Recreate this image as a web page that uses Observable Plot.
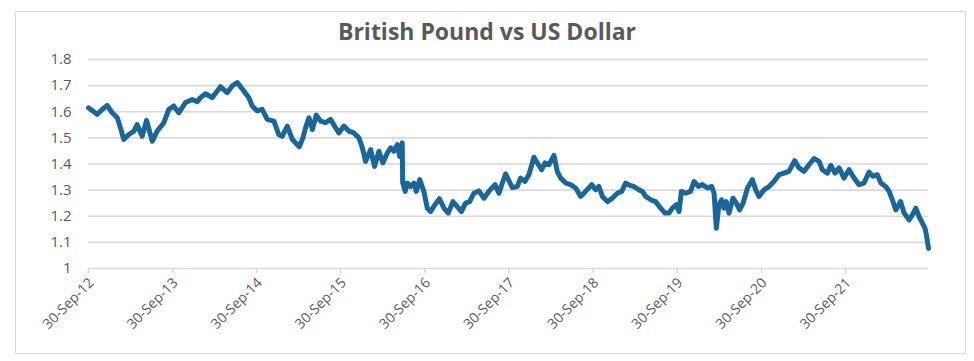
<!DOCTYPE html>
<html><head><meta charset="utf-8">
<script src="https://cdn.jsdelivr.net/npm/d3@7"></script>
<script src="https://cdn.jsdelivr.net/npm/@observablehq/plot@0.6"></script>
<style>
body{margin:0;background:#fff;}
#wrap{position:relative;width:974px;height:361px;overflow:hidden;background:#fff;}
#frame{position:absolute;left:15px;top:11px;width:951px;height:343px;border:1.5px solid #d9d9d9;box-sizing:border-box;}
#title{position:absolute;left:0;width:974px;top:20px;text-align:center;font:bold 23px "Open Sans";line-height:1;color:#595959;}
#chart{position:absolute;left:0;top:0;}
</style></head><body>
<div id="wrap"><div id="frame"></div><div id="chart"></div><div id="title">British Pound vs US Dollar</div></div>
<script>
const dates = [
"2012-09-30","2012-10-16","2012-11-07","2012-11-28","2012-12-20","2013-01-11","2013-02-02","2013-02-16","2013-03-02","2013-03-24",
"2013-04-15","2013-04-29","2013-05-21","2013-06-09","2013-07-04","2013-07-25","2013-08-23","2013-09-14","2013-10-05","2013-10-27",
"2013-11-25","2013-12-24","2014-01-15","2014-01-29","2014-02-20","2014-03-21","2014-04-26","2014-05-25","2014-06-16","2014-07-08",
"2014-08-05","2014-08-27","2014-09-11","2014-10-03","2014-10-24","2014-11-15","2014-12-14","2015-01-04","2015-01-19","2015-02-10",
"2015-03-04","2015-04-03","2015-04-19","2015-04-30","2015-05-15","2015-05-30","2015-06-16","2015-07-05","2015-07-26","2015-08-17",
"2015-09-08","2015-09-22","2015-10-14","2015-11-04","2015-11-26","2015-12-18","2016-01-02","2016-01-16","2016-02-07","2016-02-24",
"2016-03-14","2016-03-31","2016-04-19","2016-05-04","2016-05-18","2016-06-02","2016-06-12","2016-06-23","2016-06-25","2016-07-06",
"2016-07-15","2016-07-29","2016-08-13","2016-08-23","2016-09-07","2016-09-25","2016-10-10","2016-10-24","2016-11-12","2016-12-02",
"2016-12-21","2017-01-09","2017-01-29","2017-02-17","2017-03-07","2017-03-25","2017-04-12","2017-04-30","2017-05-22","2017-06-13",
"2017-07-04","2017-07-31","2017-08-17","2017-09-03","2017-09-15","2017-10-01","2017-10-14","2017-11-05","2017-11-19","2017-12-08",
"2017-12-25","2018-01-16","2018-01-31","2018-02-18","2018-03-05","2018-03-22","2018-04-13","2018-04-27","2018-05-12","2018-06-03",
"2018-06-24","2018-07-16","2018-08-07","2018-08-28","2018-09-24","2018-10-11","2018-10-25","2018-11-09","2018-12-01","2018-12-22",
"2019-01-13","2019-02-01","2019-02-18","2019-03-08","2019-03-26","2019-04-17","2019-05-02","2019-05-16","2019-06-07","2019-06-28",
"2019-07-20","2019-08-08","2019-08-25","2019-09-09","2019-09-26","2019-10-08","2019-10-18","2019-11-06","2019-11-27","2019-12-12",
"2019-12-31","2020-01-17","2020-02-08","2020-02-27","2020-03-08","2020-03-18","2020-03-29","2020-04-10","2020-04-20","2020-04-30",
"2020-05-12","2020-05-29","2020-06-13","2020-06-27","2020-07-12","2020-07-31","2020-08-21","2020-09-05","2020-09-19","2020-10-11",
"2020-11-02","2020-11-23","2020-12-15","2021-01-06","2021-01-27","2021-02-21","2021-03-12","2021-04-03","2021-04-24","2021-05-16",
"2021-06-07","2021-06-21","2021-07-13","2021-07-28","2021-08-15","2021-09-02","2021-09-23","2021-10-15","2021-11-06","2021-11-27",
"2021-12-19","2022-01-10","2022-01-27","2022-02-15","2022-03-02","2022-03-23","2022-04-07","2022-04-21","2022-05-06","2022-05-27",
"2022-06-11","2022-07-03","2022-07-17","2022-08-01","2022-08-15","2022-08-30","2022-09-10","2022-09-16","2022-09-25"
];
const gbpusd = [
1.615,1.605,1.590,1.609,1.624,1.596,1.577,1.538,1.494,1.513,
1.526,1.551,1.506,1.567,1.487,1.526,1.558,1.609,1.622,1.596,
1.635,1.647,1.638,1.654,1.669,1.654,1.696,1.673,1.699,1.712,
1.680,1.654,1.622,1.603,1.609,1.571,1.564,1.513,1.506,1.545,
1.494,1.466,1.500,1.538,1.577,1.532,1.587,1.564,1.558,1.571,
1.538,1.519,1.545,1.526,1.519,1.500,1.462,1.410,1.455,1.391,
1.449,1.404,1.442,1.462,1.449,1.474,1.429,1.481,1.330,1.295,
1.327,1.314,1.327,1.295,1.340,1.295,1.231,1.218,1.244,1.267,
1.231,1.212,1.256,1.237,1.218,1.250,1.256,1.288,1.297,1.269,
1.295,1.321,1.288,1.333,1.362,1.333,1.310,1.314,1.346,1.333,
1.359,1.426,1.404,1.378,1.404,1.397,1.433,1.372,1.346,1.327,
1.321,1.308,1.276,1.295,1.321,1.301,1.314,1.276,1.256,1.269,
1.288,1.295,1.327,1.318,1.314,1.301,1.295,1.276,1.263,1.256,
1.231,1.212,1.212,1.231,1.244,1.218,1.295,1.288,1.295,1.333,
1.314,1.321,1.308,1.314,1.288,1.154,1.244,1.263,1.231,1.256,
1.212,1.269,1.250,1.224,1.250,1.308,1.340,1.301,1.276,1.301,
1.314,1.333,1.359,1.365,1.372,1.413,1.385,1.372,1.397,1.421,
1.410,1.378,1.365,1.395,1.365,1.385,1.346,1.378,1.346,1.321,
1.327,1.369,1.353,1.359,1.327,1.314,1.295,1.263,1.224,1.256,
1.212,1.186,1.205,1.231,1.199,1.173,1.154,1.128,1.077
];
const yTicks = [1, 1.1, 1.2, 1.3, 1.4, 1.5, 1.6, 1.7, 1.8];
const xTickDates = ["2012-09-30","2013-09-30","2014-09-30","2015-09-30","2016-09-30","2017-09-30","2018-09-30","2019-09-30","2020-09-30","2021-09-30"];
const xTickLabels = ["30-Sep-12","30-Sep-13","30-Sep-14","30-Sep-15","30-Sep-16","30-Sep-17","30-Sep-18","30-Sep-19","30-Sep-20","30-Sep-21"];

const parse = d3.utcParse("%Y-%m-%d");
const data = dates.map((d, i) => ({date: parse(d), v: gbpusd[i]}));
const ticks = xTickDates.map((d, i) => ({date: parse(d), label: xTickLabels[i]}));

const chart = Plot.plot({
  width: 974,
  height: 361,
  marginLeft: 88,
  marginRight: 46,
  marginTop: 59,
  marginBottom: 93,
  style: {fontFamily: "'Open Sans', sans-serif", fontSize: "14px", color: "#595959", background: "transparent", overflow: "visible"},
  x: {type: "utc", domain: [data[0].date, data[data.length - 1].date], axis: null},
  y: {domain: [1, 1.8]},
  marks: [
    Plot.gridY(yTicks.slice(1), {stroke: "#d9d9d9", strokeOpacity: 1, strokeWidth: 1.6}),
    Plot.ruleY([1], {stroke: "#d9d9d9", strokeWidth: 1.6}),
    Plot.axisY(yTicks, {tickSize: 0, tickPadding: 17, tickFormat: d => String(+d.toFixed(1)), label: null, fontSize: 15}),
    Plot.ruleX(ticks, {x: "date", y1: 1, y2: 1, stroke: "#d9d9d9", strokeWidth: 1.6, insetBottom: -5}),
    Plot.text(ticks, {x: "date", frameAnchor: "bottom", text: "label", rotate: -45, textAnchor: "end", lineAnchor: "middle", dx: 3, dy: 12, fontSize: 14, fill: "#595959"}),
    Plot.line(data, {x: "date", y: "v", stroke: "#1a6699", strokeWidth: 5, strokeLinejoin: "round", strokeLinecap: "round"})
  ]
});
document.getElementById("chart").appendChild(chart);
</script>
</body></html>
